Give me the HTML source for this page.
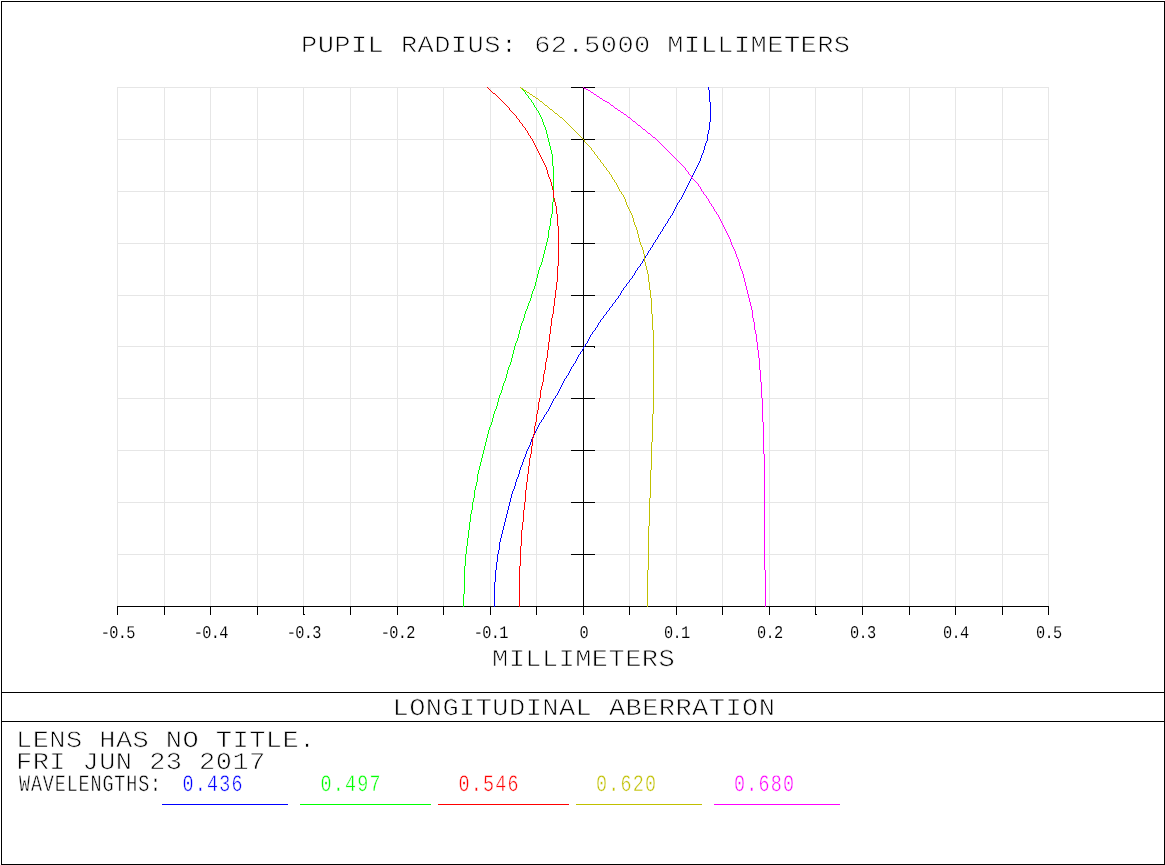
<!DOCTYPE html>
<html lang="en"><head><meta charset="utf-8"><title>Longitudinal Aberration</title>
<style>
html,body{margin:0;padding:0;background:#fff;}
body{width:1165px;height:865px;overflow:hidden;}
svg{display:block;}
text{text-rendering:geometricPrecision;}
svg{will-change:transform;}
text{font-family:"Liberation Mono", monospace;fill:#000;stroke:#fff;stroke-width:0.9px;white-space:pre;}
.g{stroke:#e6e6e6;stroke-width:1;shape-rendering:crispEdges;fill:none;}
.k{stroke:#000;stroke-width:1;shape-rendering:crispEdges;fill:none;}
.c{stroke-width:1;shape-rendering:crispEdges;fill:none;stroke-linejoin:round;}
</style></head><body>
<svg width="1165" height="865" viewBox="0 0 1165 865">
<rect x="0" y="0" width="1165" height="865" fill="#fff"/>
<path class="g" d="M117.5 87V607M164.5 87V607M210.5 87V607M257.5 87V607M303.5 87V607M350.5 87V607M397.5 87V607M443.5 87V607M490.5 87V607M536.5 87V607M583.5 87V607M629.5 87V607M676.5 87V607M722.5 87V607M769.5 87V607M815.5 87V607M862.5 87V607M909.5 87V607M955.5 87V607M1002.5 87V607M1048.5 87V607M117 87.5H1049M117 139.5H1049M117 191.5H1049M117 243.5H1049M117 295.5H1049M117 346.5H1049M117 398.5H1049M117 450.5H1049M117 502.5H1049M117 554.5H1049M117 606.5H1049"/>
<path class="k" d="M117 606.5H1049M117.5 606V615M164.5 606V615M210.5 606V615M257.5 606V615M303.5 606V615M350.5 606V615M397.5 606V615M443.5 606V615M490.5 606V615M536.5 606V615M583.5 606V615M629.5 606V615M676.5 606V615M722.5 606V615M769.5 606V615M815.5 606V615M862.5 606V615M909.5 606V615M955.5 606V615M1002.5 606V615M1048.5 606V615M583.5 87V607M571 87.5H595M571 139.5H595M571 191.5H595M571 243.5H595M571 295.5H595M571 346.5H595M571 398.5H595M571 450.5H595M571 502.5H595M571 554.5H595M304 614.5h1M816 614.5h1M594.5 347v1"/>
<path class="c" stroke="#0000ff" d="M708 87.5h1M708 88.5h1M708 89.5h1M709 90.5h1M709 91.5h1M709 92.5h1M709 93.5h1M709 94.5h1M709 95.5h1M709 96.5h1M709 97.5h1M709 98.5h1M709 99.5h1M709 100.5h1M709 101.5h1M710 102.5h1M710 103.5h1M710 104.5h1M710 105.5h1M710 106.5h1M710 107.5h1M710 108.5h1M710 109.5h1M710 110.5h1M710 111.5h1M710 112.5h1M710 113.5h1M710 114.5h1M710 115.5h1M710 116.5h1M710 117.5h1M710 118.5h1M710 119.5h1M710 120.5h1M710 121.5h1M709 122.5h1M709 123.5h1M709 124.5h1M709 125.5h1M709 126.5h1M709 127.5h1M709 128.5h1M709 129.5h1M708 130.5h1M708 131.5h1M708 132.5h1M708 133.5h1M707 134.5h1M707 135.5h1M707 136.5h1M707 137.5h1M707 138.5h1M707 139.5h1M707 140.5h1M706 141.5h1M706 142.5h1M705 143.5h1M705 144.5h1M705 145.5h1M704 146.5h1M704 147.5h1M704 148.5h1M704 149.5h1M703 150.5h1M703 151.5h1M703 152.5h1M702 153.5h1M702 154.5h1M701 155.5h1M701 156.5h1M701 157.5h1M700 158.5h1M700 159.5h1M700 160.5h1M699 161.5h1M699 162.5h1M698 163.5h1M698 164.5h1M697 165.5h1M697 166.5h1M696 167.5h1M696 168.5h1M695 169.5h1M695 170.5h1M694 171.5h1M694 172.5h1M693 173.5h1M693 174.5h1M692 175.5h1M692 176.5h1M691 177.5h1M691 178.5h1M690 179.5h1M690 180.5h1M689 181.5h1M689 182.5h1M688 183.5h1M688 184.5h1M687 185.5h1M687 186.5h1M686 187.5h1M686 188.5h1M685 189.5h1M685 190.5h1M684 191.5h1M684 192.5h1M683 193.5h1M683 194.5h1M682 195.5h1M682 196.5h1M681 197.5h1M681 198.5h1M680 199.5h1M679 200.5h1M679 201.5h1M678 202.5h1M677 203.5h1M677 204.5h1M676 205.5h1M676 206.5h1M675 207.5h1M675 208.5h1M674 209.5h1M674 210.5h1M673 211.5h1M673 212.5h1M672 213.5h1M672 214.5h1M671 215.5h1M670 216.5h1M670 217.5h1M669 218.5h1M668 219.5h1M668 220.5h1M667 221.5h1M667 222.5h1M666 223.5h1M665 224.5h1M665 225.5h1M664 226.5h1M663 227.5h1M663 228.5h1M662 229.5h1M662 230.5h1M661 231.5h1M660 232.5h1M660 233.5h1M659 234.5h1M658 235.5h1M658 236.5h1M657 237.5h1M657 238.5h1M656 239.5h1M655 240.5h1M655 241.5h1M654 242.5h1M653 243.5h1M653 244.5h1M652 245.5h1M652 246.5h1M651 247.5h1M650 248.5h1M650 249.5h1M649 250.5h1M648 251.5h1M648 252.5h1M647 253.5h1M647 254.5h1M646 255.5h1M645 256.5h1M645 257.5h1M644 258.5h1M643 259.5h1M643 260.5h1M642 261.5h1M642 262.5h1M641 263.5h1M640 264.5h1M640 265.5h1M639 266.5h1M638 267.5h1M637 268.5h1M637 269.5h1M636 270.5h1M635 271.5h1M635 272.5h1M634 273.5h1M634 274.5h1M633 275.5h1M632 276.5h1M632 277.5h1M631 278.5h1M630 279.5h1M629 280.5h1M629 281.5h1M628 282.5h1M627 283.5h1M626 284.5h1M626 285.5h1M625 286.5h1M624 287.5h1M623 288.5h1M623 289.5h1M622 290.5h1M621 291.5h1M621 292.5h1M620 293.5h1M620 294.5h1M619 295.5h1M618 296.5h1M618 297.5h1M617 298.5h1M616 299.5h1M615 300.5h1M615 301.5h1M614 302.5h1M613 303.5h1M612 304.5h1M612 305.5h1M611 306.5h1M610 307.5h1M609 308.5h1M609 309.5h1M608 310.5h1M607 311.5h1M606 312.5h1M606 313.5h1M605 314.5h1M604 315.5h1M603 316.5h1M603 317.5h1M602 318.5h1M601 319.5h1M600 320.5h1M600 321.5h1M599 322.5h1M598 323.5h1M598 324.5h1M597 325.5h1M597 326.5h1M596 327.5h1M595 328.5h1M595 329.5h1M594 330.5h1M593 331.5h1M592 332.5h1M592 333.5h1M591 334.5h1M590 335.5h1M590 336.5h1M589 337.5h1M589 338.5h1M588 339.5h1M588 340.5h1M587 341.5h1M587 342.5h1M586 343.5h1M585 344.5h1M585 345.5h1M584 346.5h1M583 347.5h1M583 348.5h1M582 349.5h1M582 350.5h1M581 351.5h1M580 352.5h1M580 353.5h1M579 354.5h1M578 355.5h1M578 356.5h1M577 357.5h1M577 358.5h1M576 359.5h1M576 360.5h1M575 361.5h1M575 362.5h1M574 363.5h1M573 364.5h1M573 365.5h1M572 366.5h1M571 367.5h1M571 368.5h1M570 369.5h1M570 370.5h1M569 371.5h1M569 372.5h1M568 373.5h1M568 374.5h1M567 375.5h1M566 376.5h1M566 377.5h1M565 378.5h1M564 379.5h1M564 380.5h1M563 381.5h1M563 382.5h1M562 383.5h1M562 384.5h1M561 385.5h1M561 386.5h1M560 387.5h1M560 388.5h1M559 389.5h1M559 390.5h1M558 391.5h1M558 392.5h1M557 393.5h1M557 394.5h1M556 395.5h1M555 396.5h1M555 397.5h1M554 398.5h1M553 399.5h1M553 400.5h1M552 401.5h1M552 402.5h1M551 403.5h1M551 404.5h1M550 405.5h1M550 406.5h1M549 407.5h1M549 408.5h1M548 409.5h1M548 410.5h1M547 411.5h1M546 412.5h1M546 413.5h1M545 414.5h1M544 415.5h1M544 416.5h1M543 417.5h1M543 418.5h1M542 419.5h1M541 420.5h1M541 421.5h1M540 422.5h1M539 423.5h1M539 424.5h1M538 425.5h1M538 426.5h1M537 427.5h1M537 428.5h1M536 429.5h1M536 430.5h1M535 431.5h1M535 432.5h1M534 433.5h1M534 434.5h1M533 435.5h1M533 436.5h1M532 437.5h1M532 438.5h1M531 439.5h1M531 440.5h1M531 441.5h1M530 442.5h1M530 443.5h1M530 444.5h1M529 445.5h1M529 446.5h1M528 447.5h1M528 448.5h1M527 449.5h1M527 450.5h1M526 451.5h1M526 452.5h1M526 453.5h1M525 454.5h1M525 455.5h1M525 456.5h1M524 457.5h1M524 458.5h1M523 459.5h1M523 460.5h1M523 461.5h1M522 462.5h1M522 463.5h1M522 464.5h1M521 465.5h1M521 466.5h1M520 467.5h1M520 468.5h1M520 469.5h1M519 470.5h1M519 471.5h1M519 472.5h1M519 473.5h1M518 474.5h1M518 475.5h1M518 476.5h1M517 477.5h1M517 478.5h1M516 479.5h1M516 480.5h1M516 481.5h1M515 482.5h1M515 483.5h1M515 484.5h1M515 485.5h1M514 486.5h1M514 487.5h1M514 488.5h1M513 489.5h1M513 490.5h1M512 491.5h1M512 492.5h1M512 493.5h1M511 494.5h1M511 495.5h1M511 496.5h1M511 497.5h1M510 498.5h1M510 499.5h1M510 500.5h1M510 501.5h1M509 502.5h1M509 503.5h1M509 504.5h1M509 505.5h1M508 506.5h1M508 507.5h1M508 508.5h1M508 509.5h1M507 510.5h1M507 511.5h1M507 512.5h1M507 513.5h1M506 514.5h1M506 515.5h1M506 516.5h1M506 517.5h1M505 518.5h1M505 519.5h1M505 520.5h1M505 521.5h1M504 522.5h1M504 523.5h1M504 524.5h1M504 525.5h1M503 526.5h1M503 527.5h1M503 528.5h1M503 529.5h1M502 530.5h1M502 531.5h1M502 532.5h1M502 533.5h1M501 534.5h1M501 535.5h1M501 536.5h1M501 537.5h1M500 538.5h1M500 539.5h1M500 540.5h1M500 541.5h1M499 542.5h1M499 543.5h1M499 544.5h1M499 545.5h1M499 546.5h1M499 547.5h1M499 548.5h1M499 549.5h1M498 550.5h1M498 551.5h1M498 552.5h1M498 553.5h1M497 554.5h1M497 555.5h1M497 556.5h1M497 557.5h1M497 558.5h1M497 559.5h1M497 560.5h1M497 561.5h1M496 562.5h1M496 563.5h1M496 564.5h1M496 565.5h1M496 566.5h1M496 567.5h1M496 568.5h1M496 569.5h1M495 570.5h1M495 571.5h1M495 572.5h1M495 573.5h1M495 574.5h1M495 575.5h1M495 576.5h1M495 577.5h1M495 578.5h1M495 579.5h1M495 580.5h1M495 581.5h1M494 582.5h1M494 583.5h1M494 584.5h1M494 585.5h1M494 586.5h1M494 587.5h1M494 588.5h1M494 589.5h1M494 590.5h1M494 591.5h1M494 592.5h1M494 593.5h1M494 594.5h1M494 595.5h1M494 596.5h1M494 597.5h1M494 598.5h1M494 599.5h1M494 600.5h1M494 601.5h1M494 602.5h1M494 603.5h1M494 604.5h1M494 605.5h1M494 606.5h1"/>
<path class="c" stroke="#00ff00" d="M520 87.5h1M521 88.5h1M522 89.5h1M523 90.5h1M524 91.5h1M525 92.5h1M525 93.5h1M526 94.5h1M527 95.5h1M528 96.5h1M528 97.5h1M529 98.5h1M530 99.5h1M531 100.5h1M531 101.5h1M532 102.5h1M533 103.5h1M533 104.5h1M534 105.5h1M534 106.5h1M535 107.5h1M536 108.5h1M536 109.5h1M537 110.5h1M538 111.5h1M538 112.5h1M539 113.5h1M539 114.5h1M540 115.5h1M540 116.5h1M541 117.5h1M541 118.5h1M542 119.5h1M542 120.5h1M542 121.5h1M543 122.5h1M543 123.5h1M543 124.5h1M544 125.5h1M544 126.5h1M545 127.5h1M545 128.5h1M545 129.5h1M546 130.5h1M546 131.5h1M546 132.5h1M546 133.5h1M547 134.5h1M547 135.5h1M547 136.5h1M547 137.5h1M548 138.5h1M548 139.5h1M548 140.5h1M548 141.5h1M549 142.5h1M549 143.5h1M549 144.5h1M549 145.5h1M550 146.5h1M550 147.5h1M550 148.5h1M550 149.5h1M551 150.5h1M551 151.5h1M551 152.5h1M551 153.5h1M552 154.5h1M552 155.5h1M552 156.5h1M552 157.5h1M552 158.5h1M552 159.5h1M552 160.5h1M552 161.5h1M552 162.5h1M552 163.5h1M552 164.5h1M552 165.5h1M553 166.5h1M553 167.5h1M553 168.5h1M553 169.5h1M553 170.5h1M553 171.5h1M553 172.5h1M553 173.5h1M553 174.5h1M553 175.5h1M553 176.5h1M553 177.5h1M553 178.5h1M553 179.5h1M553 180.5h1M553 181.5h1M553 182.5h1M553 183.5h1M553 184.5h1M553 185.5h1M553 186.5h1M553 187.5h1M553 188.5h1M553 189.5h1M553 190.5h1M553 191.5h1M553 192.5h1M553 193.5h1M553 194.5h1M553 195.5h1M553 196.5h1M553 197.5h1M553 198.5h1M553 199.5h1M553 200.5h1M553 201.5h1M552 202.5h1M552 203.5h1M552 204.5h1M552 205.5h1M552 206.5h1M552 207.5h1M552 208.5h1M552 209.5h1M552 210.5h1M552 211.5h1M552 212.5h1M552 213.5h1M551 214.5h1M551 215.5h1M551 216.5h1M551 217.5h1M550 218.5h1M550 219.5h1M550 220.5h1M550 221.5h1M550 222.5h1M550 223.5h1M550 224.5h1M550 225.5h1M549 226.5h1M549 227.5h1M549 228.5h1M549 229.5h1M548 230.5h1M548 231.5h1M548 232.5h1M548 233.5h1M548 234.5h1M548 235.5h1M548 236.5h1M548 237.5h1M547 238.5h1M547 239.5h1M547 240.5h1M547 241.5h1M546 242.5h1M546 243.5h1M546 244.5h1M546 245.5h1M545 246.5h1M545 247.5h1M545 248.5h1M545 249.5h1M544 250.5h1M544 251.5h1M544 252.5h1M544 253.5h1M543 254.5h1M543 255.5h1M543 256.5h1M543 257.5h1M542 258.5h1M542 259.5h1M542 260.5h1M542 261.5h1M541 262.5h1M541 263.5h1M541 264.5h1M540 265.5h1M540 266.5h1M539 267.5h1M539 268.5h1M539 269.5h1M538 270.5h1M538 271.5h1M538 272.5h1M538 273.5h1M537 274.5h1M537 275.5h1M537 276.5h1M537 277.5h1M536 278.5h1M536 279.5h1M536 280.5h1M536 281.5h1M535 282.5h1M535 283.5h1M535 284.5h1M535 285.5h1M534 286.5h1M534 287.5h1M534 288.5h1M533 289.5h1M533 290.5h1M532 291.5h1M532 292.5h1M532 293.5h1M531 294.5h1M531 295.5h1M531 296.5h1M531 297.5h1M530 298.5h1M530 299.5h1M530 300.5h1M529 301.5h1M529 302.5h1M528 303.5h1M528 304.5h1M528 305.5h1M527 306.5h1M527 307.5h1M527 308.5h1M526 309.5h1M526 310.5h1M525 311.5h1M525 312.5h1M525 313.5h1M524 314.5h1M524 315.5h1M524 316.5h1M524 317.5h1M523 318.5h1M523 319.5h1M523 320.5h1M522 321.5h1M522 322.5h1M521 323.5h1M521 324.5h1M521 325.5h1M520 326.5h1M520 327.5h1M520 328.5h1M520 329.5h1M519 330.5h1M519 331.5h1M519 332.5h1M519 333.5h1M518 334.5h1M518 335.5h1M518 336.5h1M518 337.5h1M517 338.5h1M517 339.5h1M517 340.5h1M516 341.5h1M516 342.5h1M515 343.5h1M515 344.5h1M515 345.5h1M514 346.5h1M514 347.5h1M514 348.5h1M514 349.5h1M513 350.5h1M513 351.5h1M513 352.5h1M513 353.5h1M512 354.5h1M512 355.5h1M512 356.5h1M512 357.5h1M511 358.5h1M511 359.5h1M511 360.5h1M511 361.5h1M510 362.5h1M510 363.5h1M510 364.5h1M509 365.5h1M509 366.5h1M508 367.5h1M508 368.5h1M508 369.5h1M507 370.5h1M507 371.5h1M507 372.5h1M507 373.5h1M506 374.5h1M506 375.5h1M506 376.5h1M506 377.5h1M505 378.5h1M505 379.5h1M505 380.5h1M504 381.5h1M504 382.5h1M503 383.5h1M503 384.5h1M503 385.5h1M502 386.5h1M502 387.5h1M502 388.5h1M502 389.5h1M501 390.5h1M501 391.5h1M501 392.5h1M500 393.5h1M500 394.5h1M499 395.5h1M499 396.5h1M499 397.5h1M498 398.5h1M498 399.5h1M498 400.5h1M498 401.5h1M497 402.5h1M497 403.5h1M497 404.5h1M497 405.5h1M496 406.5h1M496 407.5h1M496 408.5h1M495 409.5h1M495 410.5h1M494 411.5h1M494 412.5h1M494 413.5h1M493 414.5h1M493 415.5h1M493 416.5h1M493 417.5h1M492 418.5h1M492 419.5h1M492 420.5h1M492 421.5h1M491 422.5h1M491 423.5h1M491 424.5h1M490 425.5h1M490 426.5h1M489 427.5h1M489 428.5h1M489 429.5h1M488 430.5h1M488 431.5h1M488 432.5h1M488 433.5h1M487 434.5h1M487 435.5h1M487 436.5h1M487 437.5h1M486 438.5h1M486 439.5h1M486 440.5h1M486 441.5h1M485 442.5h1M485 443.5h1M485 444.5h1M485 445.5h1M484 446.5h1M484 447.5h1M484 448.5h1M484 449.5h1M483 450.5h1M483 451.5h1M483 452.5h1M483 453.5h1M482 454.5h1M482 455.5h1M482 456.5h1M482 457.5h1M481 458.5h1M481 459.5h1M481 460.5h1M481 461.5h1M480 462.5h1M480 463.5h1M480 464.5h1M480 465.5h1M479 466.5h1M479 467.5h1M479 468.5h1M479 469.5h1M478 470.5h1M478 471.5h1M478 472.5h1M478 473.5h1M477 474.5h1M477 475.5h1M477 476.5h1M477 477.5h1M477 478.5h1M477 479.5h1M477 480.5h1M477 481.5h1M476 482.5h1M476 483.5h1M476 484.5h1M476 485.5h1M475 486.5h1M475 487.5h1M475 488.5h1M475 489.5h1M474 490.5h1M474 491.5h1M474 492.5h1M474 493.5h1M474 494.5h1M474 495.5h1M474 496.5h1M474 497.5h1M473 498.5h1M473 499.5h1M473 500.5h1M473 501.5h1M472 502.5h1M472 503.5h1M472 504.5h1M472 505.5h1M472 506.5h1M472 507.5h1M472 508.5h1M472 509.5h1M471 510.5h1M471 511.5h1M471 512.5h1M471 513.5h1M470 514.5h1M470 515.5h1M470 516.5h1M470 517.5h1M470 518.5h1M470 519.5h1M470 520.5h1M470 521.5h1M469 522.5h1M469 523.5h1M469 524.5h1M469 525.5h1M469 526.5h1M469 527.5h1M469 528.5h1M469 529.5h1M468 530.5h1M468 531.5h1M468 532.5h1M468 533.5h1M468 534.5h1M468 535.5h1M468 536.5h1M468 537.5h1M467 538.5h1M467 539.5h1M467 540.5h1M467 541.5h1M467 542.5h1M467 543.5h1M467 544.5h1M467 545.5h1M466 546.5h1M466 547.5h1M466 548.5h1M466 549.5h1M466 550.5h1M466 551.5h1M466 552.5h1M466 553.5h1M465 554.5h1M465 555.5h1M465 556.5h1M465 557.5h1M465 558.5h1M465 559.5h1M465 560.5h1M465 561.5h1M465 562.5h1M465 563.5h1M465 564.5h1M465 565.5h1M464 566.5h1M464 567.5h1M464 568.5h1M464 569.5h1M464 570.5h1M464 571.5h1M464 572.5h1M464 573.5h1M464 574.5h1M464 575.5h1M464 576.5h1M464 577.5h1M464 578.5h1M464 579.5h1M464 580.5h1M464 581.5h1M464 582.5h1M464 583.5h1M464 584.5h1M464 585.5h1M464 586.5h1M464 587.5h1M464 588.5h1M464 589.5h1M464 590.5h1M464 591.5h1M464 592.5h1M464 593.5h1M463 594.5h1M463 595.5h1M463 596.5h1M463 597.5h1M463 598.5h1M463 599.5h1M463 600.5h1M463 601.5h1M463 602.5h1M463 603.5h1M463 604.5h1M463 605.5h1M463 606.5h1"/>
<path class="c" stroke="#ff0000" d="M487 87.5h1M488 88.5h1M489 89.5h1M490 90.5h1M491 91.5h1M492 92.5h1M493 93.5h2M495 94.5h1M496 95.5h1M497 96.5h1M498 97.5h1M499 98.5h1M500 99.5h1M501 100.5h1M502 101.5h1M503 102.5h1M504 103.5h1M505 104.5h1M506 105.5h1M507 106.5h1M508 107.5h1M509 108.5h1M509 109.5h1M510 110.5h1M511 111.5h1M512 112.5h1M513 113.5h1M514 114.5h1M515 115.5h1M516 116.5h1M516 117.5h1M517 118.5h1M518 119.5h1M519 120.5h1M519 121.5h1M520 122.5h1M521 123.5h1M522 124.5h1M522 125.5h1M523 126.5h1M524 127.5h1M525 128.5h1M525 129.5h1M526 130.5h1M527 131.5h1M527 132.5h1M528 133.5h1M528 134.5h1M529 135.5h1M530 136.5h1M530 137.5h1M531 138.5h1M532 139.5h1M532 140.5h1M533 141.5h1M533 142.5h1M534 143.5h1M534 144.5h1M535 145.5h1M535 146.5h1M536 147.5h1M536 148.5h1M537 149.5h1M537 150.5h1M538 151.5h1M538 152.5h1M539 153.5h1M539 154.5h1M540 155.5h1M540 156.5h1M541 157.5h1M541 158.5h1M542 159.5h1M542 160.5h1M543 161.5h1M543 162.5h1M544 163.5h1M544 164.5h1M545 165.5h1M545 166.5h1M546 167.5h1M546 168.5h1M546 169.5h1M547 170.5h1M547 171.5h1M547 172.5h1M547 173.5h1M548 174.5h1M548 175.5h1M548 176.5h1M549 177.5h1M549 178.5h1M550 179.5h1M550 180.5h1M550 181.5h1M551 182.5h1M551 183.5h1M551 184.5h1M551 185.5h1M552 186.5h1M552 187.5h1M552 188.5h1M552 189.5h1M553 190.5h1M553 191.5h1M553 192.5h1M553 193.5h1M553 194.5h1M553 195.5h1M553 196.5h1M553 197.5h1M554 198.5h1M554 199.5h1M554 200.5h1M554 201.5h1M555 202.5h1M555 203.5h1M555 204.5h1M555 205.5h1M556 206.5h1M556 207.5h1M556 208.5h1M556 209.5h1M556 210.5h1M556 211.5h1M556 212.5h1M556 213.5h1M557 214.5h1M557 215.5h1M557 216.5h1M557 217.5h1M557 218.5h1M557 219.5h1M557 220.5h1M557 221.5h1M557 222.5h1M557 223.5h1M557 224.5h1M557 225.5h1M558 226.5h1M558 227.5h1M558 228.5h1M558 229.5h1M558 230.5h1M558 231.5h1M558 232.5h1M558 233.5h1M558 234.5h1M558 235.5h1M558 236.5h1M558 237.5h1M558 238.5h1M558 239.5h1M558 240.5h1M558 241.5h1M558 242.5h1M558 243.5h1M558 244.5h1M558 245.5h1M558 246.5h1M558 247.5h1M558 248.5h1M558 249.5h1M558 250.5h1M558 251.5h1M558 252.5h1M558 253.5h1M558 254.5h1M558 255.5h1M558 256.5h1M558 257.5h1M558 258.5h1M558 259.5h1M558 260.5h1M558 261.5h1M558 262.5h1M558 263.5h1M558 264.5h1M558 265.5h1M557 266.5h1M557 267.5h1M557 268.5h1M557 269.5h1M557 270.5h1M557 271.5h1M557 272.5h1M557 273.5h1M557 274.5h1M557 275.5h1M557 276.5h1M557 277.5h1M557 278.5h1M557 279.5h1M557 280.5h1M557 281.5h1M556 282.5h1M556 283.5h1M556 284.5h1M556 285.5h1M556 286.5h1M556 287.5h1M556 288.5h1M556 289.5h1M555 290.5h1M555 291.5h1M555 292.5h1M555 293.5h1M555 294.5h1M555 295.5h1M555 296.5h1M555 297.5h1M554 298.5h1M554 299.5h1M554 300.5h1M554 301.5h1M554 302.5h1M554 303.5h1M554 304.5h1M554 305.5h1M553 306.5h1M553 307.5h1M553 308.5h1M553 309.5h1M553 310.5h1M553 311.5h1M553 312.5h1M553 313.5h1M552 314.5h1M552 315.5h1M552 316.5h1M552 317.5h1M551 318.5h1M551 319.5h1M551 320.5h1M551 321.5h1M551 322.5h1M551 323.5h1M551 324.5h1M551 325.5h1M550 326.5h1M550 327.5h1M550 328.5h1M550 329.5h1M550 330.5h1M550 331.5h1M550 332.5h1M550 333.5h1M549 334.5h1M549 335.5h1M549 336.5h1M549 337.5h1M549 338.5h1M549 339.5h1M549 340.5h1M549 341.5h1M548 342.5h1M548 343.5h1M548 344.5h1M548 345.5h1M548 346.5h1M548 347.5h1M548 348.5h1M548 349.5h1M547 350.5h1M547 351.5h1M547 352.5h1M547 353.5h1M547 354.5h1M547 355.5h1M547 356.5h1M547 357.5h1M546 358.5h1M546 359.5h1M546 360.5h1M546 361.5h1M545 362.5h1M545 363.5h1M545 364.5h1M545 365.5h1M545 366.5h1M545 367.5h1M545 368.5h1M545 369.5h1M544 370.5h1M544 371.5h1M544 372.5h1M544 373.5h1M543 374.5h1M543 375.5h1M543 376.5h1M543 377.5h1M543 378.5h1M543 379.5h1M543 380.5h1M543 381.5h1M542 382.5h1M542 383.5h1M542 384.5h1M542 385.5h1M541 386.5h1M541 387.5h1M541 388.5h1M541 389.5h1M540 390.5h1M540 391.5h1M540 392.5h1M540 393.5h1M540 394.5h1M540 395.5h1M540 396.5h1M540 397.5h1M539 398.5h1M539 399.5h1M539 400.5h1M539 401.5h1M538 402.5h1M538 403.5h1M538 404.5h1M538 405.5h1M538 406.5h1M538 407.5h1M538 408.5h1M538 409.5h1M537 410.5h1M537 411.5h1M537 412.5h1M537 413.5h1M536 414.5h1M536 415.5h1M536 416.5h1M536 417.5h1M536 418.5h1M536 419.5h1M536 420.5h1M536 421.5h1M535 422.5h1M535 423.5h1M535 424.5h1M535 425.5h1M534 426.5h1M534 427.5h1M534 428.5h1M534 429.5h1M534 430.5h1M534 431.5h1M534 432.5h1M534 433.5h1M533 434.5h1M533 435.5h1M533 436.5h1M533 437.5h1M532 438.5h1M532 439.5h1M532 440.5h1M532 441.5h1M532 442.5h1M532 443.5h1M532 444.5h1M532 445.5h1M531 446.5h1M531 447.5h1M531 448.5h1M531 449.5h1M531 450.5h1M531 451.5h1M531 452.5h1M531 453.5h1M530 454.5h1M530 455.5h1M530 456.5h1M530 457.5h1M529 458.5h1M529 459.5h1M529 460.5h1M529 461.5h1M529 462.5h1M529 463.5h1M529 464.5h1M529 465.5h1M528 466.5h1M528 467.5h1M528 468.5h1M528 469.5h1M528 470.5h1M528 471.5h1M528 472.5h1M528 473.5h1M527 474.5h1M527 475.5h1M527 476.5h1M527 477.5h1M527 478.5h1M527 479.5h1M527 480.5h1M527 481.5h1M526 482.5h1M526 483.5h1M526 484.5h1M526 485.5h1M526 486.5h1M526 487.5h1M526 488.5h1M526 489.5h1M525 490.5h1M525 491.5h1M525 492.5h1M525 493.5h1M525 494.5h1M525 495.5h1M525 496.5h1M525 497.5h1M525 498.5h1M525 499.5h1M525 500.5h1M525 501.5h1M524 502.5h1M524 503.5h1M524 504.5h1M524 505.5h1M524 506.5h1M524 507.5h1M524 508.5h1M524 509.5h1M523 510.5h1M523 511.5h1M523 512.5h1M523 513.5h1M523 514.5h1M523 515.5h1M523 516.5h1M523 517.5h1M523 518.5h1M523 519.5h1M523 520.5h1M523 521.5h1M522 522.5h1M522 523.5h1M522 524.5h1M522 525.5h1M522 526.5h1M522 527.5h1M522 528.5h1M522 529.5h1M521 530.5h1M521 531.5h1M521 532.5h1M521 533.5h1M521 534.5h1M521 535.5h1M521 536.5h1M521 537.5h1M521 538.5h1M521 539.5h1M521 540.5h1M521 541.5h1M521 542.5h1M521 543.5h1M521 544.5h1M521 545.5h1M520 546.5h1M520 547.5h1M520 548.5h1M520 549.5h1M520 550.5h1M520 551.5h1M520 552.5h1M520 553.5h1M520 554.5h1M520 555.5h1M520 556.5h1M520 557.5h1M520 558.5h1M520 559.5h1M520 560.5h1M520 561.5h1M520 562.5h1M520 563.5h1M520 564.5h1M520 565.5h1M519 566.5h1M519 567.5h1M519 568.5h1M519 569.5h1M519 570.5h1M519 571.5h1M519 572.5h1M519 573.5h1M519 574.5h1M519 575.5h1M519 576.5h1M519 577.5h1M519 578.5h1M519 579.5h1M519 580.5h1M519 581.5h1M519 582.5h1M519 583.5h1M519 584.5h1M519 585.5h1M519 586.5h1M519 587.5h1M519 588.5h1M519 589.5h1M519 590.5h1M519 591.5h1M519 592.5h1M519 593.5h1M519 594.5h1M519 595.5h1M519 596.5h1M519 597.5h1M519 598.5h1M519 599.5h1M519 600.5h1M519 601.5h1M519 602.5h1M519 603.5h1M519 604.5h1M519 605.5h1M519 606.5h1"/>
<path class="c" stroke="#c0c000" d="M520 87.5h1M521 88.5h2M523 89.5h1M524 90.5h2M526 91.5h1M527 92.5h2M529 93.5h1M530 94.5h2M532 95.5h1M533 96.5h2M535 97.5h1M536 98.5h2M538 99.5h1M539 100.5h1M540 101.5h2M542 102.5h1M543 103.5h1M544 104.5h1M545 105.5h2M547 106.5h1M548 107.5h1M549 108.5h1M550 109.5h2M552 110.5h1M553 111.5h1M554 112.5h1M555 113.5h2M557 114.5h1M558 115.5h1M559 116.5h1M560 117.5h2M562 118.5h1M563 119.5h1M564 120.5h1M565 121.5h1M566 122.5h1M567 123.5h1M568 124.5h1M569 125.5h1M570 126.5h1M571 127.5h1M572 128.5h1M573 129.5h1M574 130.5h1M575 131.5h1M576 132.5h1M577 133.5h1M578 134.5h1M579 135.5h1M580 136.5h1M581 137.5h1M582 138.5h1M583 139.5h1M584 140.5h1M584 141.5h1M585 142.5h1M586 143.5h1M587 144.5h1M588 145.5h1M589 146.5h1M590 147.5h1M591 148.5h1M591 149.5h1M592 150.5h1M593 151.5h1M594 152.5h1M594 153.5h1M595 154.5h1M596 155.5h1M597 156.5h1M597 157.5h1M598 158.5h1M599 159.5h1M600 160.5h1M600 161.5h1M601 162.5h1M602 163.5h1M603 164.5h1M603 165.5h1M604 166.5h1M605 167.5h1M606 168.5h1M606 169.5h1M607 170.5h1M608 171.5h1M609 172.5h1M609 173.5h1M610 174.5h1M611 175.5h1M611 176.5h1M612 177.5h1M612 178.5h1M613 179.5h1M614 180.5h1M614 181.5h1M615 182.5h1M616 183.5h1M616 184.5h1M617 185.5h1M617 186.5h1M618 187.5h1M618 188.5h1M619 189.5h1M619 190.5h1M620 191.5h1M621 192.5h1M621 193.5h1M622 194.5h1M623 195.5h1M623 196.5h1M624 197.5h1M624 198.5h1M625 199.5h1M625 200.5h1M625 201.5h1M626 202.5h1M626 203.5h1M626 204.5h1M627 205.5h1M627 206.5h1M628 207.5h1M628 208.5h1M629 209.5h1M629 210.5h1M630 211.5h1M630 212.5h1M631 213.5h1M631 214.5h1M632 215.5h1M632 216.5h1M632 217.5h1M633 218.5h1M633 219.5h1M633 220.5h1M633 221.5h1M634 222.5h1M634 223.5h1M634 224.5h1M635 225.5h1M635 226.5h1M636 227.5h1M636 228.5h1M636 229.5h1M637 230.5h1M637 231.5h1M637 232.5h1M637 233.5h1M638 234.5h1M638 235.5h1M638 236.5h1M638 237.5h1M639 238.5h1M639 239.5h1M639 240.5h1M639 241.5h1M640 242.5h1M640 243.5h1M640 244.5h1M641 245.5h1M641 246.5h1M642 247.5h1M642 248.5h1M642 249.5h1M643 250.5h1M643 251.5h1M643 252.5h1M643 253.5h1M644 254.5h1M644 255.5h1M644 256.5h1M644 257.5h1M644 258.5h1M644 259.5h1M644 260.5h1M644 261.5h1M645 262.5h1M645 263.5h1M645 264.5h1M645 265.5h1M646 266.5h1M646 267.5h1M646 268.5h1M646 269.5h1M647 270.5h1M647 271.5h1M647 272.5h1M647 273.5h1M648 274.5h1M648 275.5h1M648 276.5h1M648 277.5h1M648 278.5h1M648 279.5h1M648 280.5h1M648 281.5h1M649 282.5h1M649 283.5h1M649 284.5h1M649 285.5h1M649 286.5h1M649 287.5h1M649 288.5h1M649 289.5h1M650 290.5h1M650 291.5h1M650 292.5h1M650 293.5h1M650 294.5h1M650 295.5h1M650 296.5h1M650 297.5h1M651 298.5h1M651 299.5h1M651 300.5h1M651 301.5h1M651 302.5h1M651 303.5h1M651 304.5h1M651 305.5h1M651 306.5h1M651 307.5h1M651 308.5h1M651 309.5h1M651 310.5h1M651 311.5h1M651 312.5h1M651 313.5h1M652 314.5h1M652 315.5h1M652 316.5h1M652 317.5h1M652 318.5h1M652 319.5h1M652 320.5h1M652 321.5h1M652 322.5h1M652 323.5h1M652 324.5h1M652 325.5h1M652 326.5h1M652 327.5h1M652 328.5h1M652 329.5h1M653 330.5h1M653 331.5h1M653 332.5h1M653 333.5h1M653 334.5h1M653 335.5h1M653 336.5h1M653 337.5h1M653 338.5h1M653 339.5h1M653 340.5h1M653 341.5h1M653 342.5h1M653 343.5h1M653 344.5h1M653 345.5h1M653 346.5h1M653 347.5h1M653 348.5h1M653 349.5h1M653 350.5h1M653 351.5h1M653 352.5h1M653 353.5h1M653 354.5h1M653 355.5h1M653 356.5h1M653 357.5h1M653 358.5h1M653 359.5h1M653 360.5h1M653 361.5h1M653 362.5h1M653 363.5h1M653 364.5h1M653 365.5h1M653 366.5h1M653 367.5h1M653 368.5h1M653 369.5h1M653 370.5h1M653 371.5h1M653 372.5h1M653 373.5h1M653 374.5h1M653 375.5h1M653 376.5h1M653 377.5h1M653 378.5h1M653 379.5h1M653 380.5h1M653 381.5h1M653 382.5h1M653 383.5h1M653 384.5h1M653 385.5h1M653 386.5h1M653 387.5h1M653 388.5h1M653 389.5h1M653 390.5h1M653 391.5h1M653 392.5h1M653 393.5h1M653 394.5h1M653 395.5h1M653 396.5h1M653 397.5h1M653 398.5h1M653 399.5h1M653 400.5h1M653 401.5h1M653 402.5h1M653 403.5h1M653 404.5h1M653 405.5h1M653 406.5h1M653 407.5h1M653 408.5h1M653 409.5h1M653 410.5h1M653 411.5h1M653 412.5h1M653 413.5h1M652 414.5h1M652 415.5h1M652 416.5h1M652 417.5h1M652 418.5h1M652 419.5h1M652 420.5h1M652 421.5h1M652 422.5h1M652 423.5h1M652 424.5h1M652 425.5h1M652 426.5h1M652 427.5h1M652 428.5h1M652 429.5h1M652 430.5h1M652 431.5h1M652 432.5h1M652 433.5h1M652 434.5h1M652 435.5h1M652 436.5h1M652 437.5h1M652 438.5h1M652 439.5h1M652 440.5h1M652 441.5h1M651 442.5h1M651 443.5h1M651 444.5h1M651 445.5h1M651 446.5h1M651 447.5h1M651 448.5h1M651 449.5h1M651 450.5h1M651 451.5h1M651 452.5h1M651 453.5h1M651 454.5h1M651 455.5h1M651 456.5h1M651 457.5h1M651 458.5h1M651 459.5h1M651 460.5h1M651 461.5h1M651 462.5h1M651 463.5h1M651 464.5h1M651 465.5h1M651 466.5h1M651 467.5h1M651 468.5h1M651 469.5h1M650 470.5h1M650 471.5h1M650 472.5h1M650 473.5h1M650 474.5h1M650 475.5h1M650 476.5h1M650 477.5h1M650 478.5h1M650 479.5h1M650 480.5h1M650 481.5h1M650 482.5h1M650 483.5h1M650 484.5h1M650 485.5h1M650 486.5h1M650 487.5h1M650 488.5h1M650 489.5h1M650 490.5h1M650 491.5h1M650 492.5h1M650 493.5h1M650 494.5h1M650 495.5h1M650 496.5h1M650 497.5h1M649 498.5h1M649 499.5h1M649 500.5h1M649 501.5h1M649 502.5h1M649 503.5h1M649 504.5h1M649 505.5h1M649 506.5h1M649 507.5h1M649 508.5h1M649 509.5h1M649 510.5h1M649 511.5h1M649 512.5h1M649 513.5h1M649 514.5h1M649 515.5h1M649 516.5h1M649 517.5h1M649 518.5h1M649 519.5h1M649 520.5h1M649 521.5h1M649 522.5h1M649 523.5h1M649 524.5h1M649 525.5h1M648 526.5h1M648 527.5h1M648 528.5h1M648 529.5h1M648 530.5h1M648 531.5h1M648 532.5h1M648 533.5h1M648 534.5h1M648 535.5h1M648 536.5h1M648 537.5h1M648 538.5h1M648 539.5h1M648 540.5h1M648 541.5h1M648 542.5h1M648 543.5h1M648 544.5h1M648 545.5h1M648 546.5h1M648 547.5h1M648 548.5h1M648 549.5h1M648 550.5h1M648 551.5h1M648 552.5h1M648 553.5h1M648 554.5h1M648 555.5h1M648 556.5h1M648 557.5h1M648 558.5h1M648 559.5h1M648 560.5h1M648 561.5h1M648 562.5h1M648 563.5h1M648 564.5h1M648 565.5h1M648 566.5h1M648 567.5h1M648 568.5h1M648 569.5h1M647 570.5h1M647 571.5h1M647 572.5h1M647 573.5h1M647 574.5h1M647 575.5h1M647 576.5h1M647 577.5h1M647 578.5h1M647 579.5h1M647 580.5h1M647 581.5h1M647 582.5h1M647 583.5h1M647 584.5h1M647 585.5h1M647 586.5h1M647 587.5h1M647 588.5h1M647 589.5h1M647 590.5h1M647 591.5h1M647 592.5h1M647 593.5h1M647 594.5h1M647 595.5h1M647 596.5h1M647 597.5h1M647 598.5h1M647 599.5h1M647 600.5h1M647 601.5h1M647 602.5h1M647 603.5h1M647 604.5h1M647 605.5h1M647 606.5h1"/>
<path class="c" stroke="#ff00ff" d="M583 87.5h1M584 88.5h2M586 89.5h2M588 90.5h2M590 91.5h1M591 92.5h2M593 93.5h1M594 94.5h2M596 95.5h1M597 96.5h2M599 97.5h1M600 98.5h2M602 99.5h1M603 100.5h2M605 101.5h2M607 102.5h2M609 103.5h1M610 104.5h1M611 105.5h2M613 106.5h1M614 107.5h1M615 108.5h2M617 109.5h1M618 110.5h2M620 111.5h1M621 112.5h2M623 113.5h1M624 114.5h2M626 115.5h1M627 116.5h1M628 117.5h2M630 118.5h1M631 119.5h1M632 120.5h1M633 121.5h2M635 122.5h1M636 123.5h1M637 124.5h1M638 125.5h2M640 126.5h1M641 127.5h1M642 128.5h1M643 129.5h2M645 130.5h1M646 131.5h1M647 132.5h1M648 133.5h2M650 134.5h1M651 135.5h1M652 136.5h1M653 137.5h2M655 138.5h1M656 139.5h1M657 140.5h1M658 141.5h1M659 142.5h1M660 143.5h1M661 144.5h1M662 145.5h1M663 146.5h1M664 147.5h1M665 148.5h1M666 149.5h1M667 150.5h1M668 151.5h1M669 152.5h1M670 153.5h1M671 154.5h1M672 155.5h1M673 156.5h1M674 157.5h1M675 158.5h1M676 159.5h1M677 160.5h1M678 161.5h1M679 162.5h1M680 163.5h1M681 164.5h1M682 165.5h1M683 166.5h1M684 167.5h1M685 168.5h1M685 169.5h1M686 170.5h1M687 171.5h1M688 172.5h1M688 173.5h1M689 174.5h1M690 175.5h1M691 176.5h1M691 177.5h1M692 178.5h1M693 179.5h1M694 180.5h1M695 181.5h1M696 182.5h1M697 183.5h1M698 184.5h1M698 185.5h1M699 186.5h1M700 187.5h1M700 188.5h1M701 189.5h1M701 190.5h1M702 191.5h1M703 192.5h1M703 193.5h1M704 194.5h1M705 195.5h1M706 196.5h1M706 197.5h1M707 198.5h1M708 199.5h1M708 200.5h1M709 201.5h1M709 202.5h1M710 203.5h1M711 204.5h1M711 205.5h1M712 206.5h1M713 207.5h1M713 208.5h1M714 209.5h1M714 210.5h1M715 211.5h1M716 212.5h1M716 213.5h1M717 214.5h1M718 215.5h1M718 216.5h1M719 217.5h1M719 218.5h1M720 219.5h1M720 220.5h1M721 221.5h1M721 222.5h1M722 223.5h1M722 224.5h1M723 225.5h1M723 226.5h1M724 227.5h1M724 228.5h1M725 229.5h1M725 230.5h1M726 231.5h1M726 232.5h1M727 233.5h1M727 234.5h1M728 235.5h1M728 236.5h1M729 237.5h1M729 238.5h1M730 239.5h1M730 240.5h1M730 241.5h1M731 242.5h1M731 243.5h1M731 244.5h1M732 245.5h1M732 246.5h1M733 247.5h1M733 248.5h1M734 249.5h1M734 250.5h1M735 251.5h1M735 252.5h1M735 253.5h1M736 254.5h1M736 255.5h1M736 256.5h1M737 257.5h1M737 258.5h1M738 259.5h1M738 260.5h1M738 261.5h1M739 262.5h1M739 263.5h1M739 264.5h1M739 265.5h1M740 266.5h1M740 267.5h1M740 268.5h1M741 269.5h1M741 270.5h1M742 271.5h1M742 272.5h1M742 273.5h1M743 274.5h1M743 275.5h1M743 276.5h1M743 277.5h1M744 278.5h1M744 279.5h1M744 280.5h1M744 281.5h1M745 282.5h1M745 283.5h1M745 284.5h1M745 285.5h1M746 286.5h1M746 287.5h1M746 288.5h1M746 289.5h1M747 290.5h1M747 291.5h1M747 292.5h1M747 293.5h1M748 294.5h1M748 295.5h1M748 296.5h1M748 297.5h1M749 298.5h1M749 299.5h1M749 300.5h1M749 301.5h1M750 302.5h1M750 303.5h1M750 304.5h1M750 305.5h1M751 306.5h1M751 307.5h1M751 308.5h1M751 309.5h1M752 310.5h1M752 311.5h1M752 312.5h1M752 313.5h1M752 314.5h1M752 315.5h1M752 316.5h1M752 317.5h1M753 318.5h1M753 319.5h1M753 320.5h1M753 321.5h1M754 322.5h1M754 323.5h1M754 324.5h1M754 325.5h1M754 326.5h1M754 327.5h1M754 328.5h1M754 329.5h1M755 330.5h1M755 331.5h1M755 332.5h1M755 333.5h1M756 334.5h1M756 335.5h1M756 336.5h1M756 337.5h1M756 338.5h1M756 339.5h1M756 340.5h1M756 341.5h1M757 342.5h1M757 343.5h1M757 344.5h1M757 345.5h1M757 346.5h1M757 347.5h1M757 348.5h1M757 349.5h1M758 350.5h1M758 351.5h1M758 352.5h1M758 353.5h1M758 354.5h1M758 355.5h1M758 356.5h1M758 357.5h1M759 358.5h1M759 359.5h1M759 360.5h1M759 361.5h1M759 362.5h1M759 363.5h1M759 364.5h1M759 365.5h1M759 366.5h1M759 367.5h1M759 368.5h1M759 369.5h1M760 370.5h1M760 371.5h1M760 372.5h1M760 373.5h1M760 374.5h1M760 375.5h1M760 376.5h1M760 377.5h1M760 378.5h1M760 379.5h1M760 380.5h1M760 381.5h1M761 382.5h1M761 383.5h1M761 384.5h1M761 385.5h1M761 386.5h1M761 387.5h1M761 388.5h1M761 389.5h1M761 390.5h1M761 391.5h1M761 392.5h1M761 393.5h1M761 394.5h1M761 395.5h1M761 396.5h1M761 397.5h1M762 398.5h1M762 399.5h1M762 400.5h1M762 401.5h1M762 402.5h1M762 403.5h1M762 404.5h1M762 405.5h1M762 406.5h1M762 407.5h1M762 408.5h1M762 409.5h1M762 410.5h1M762 411.5h1M762 412.5h1M762 413.5h1M762 414.5h1M762 415.5h1M762 416.5h1M762 417.5h1M762 418.5h1M762 419.5h1M762 420.5h1M762 421.5h1M763 422.5h1M763 423.5h1M763 424.5h1M763 425.5h1M763 426.5h1M763 427.5h1M763 428.5h1M763 429.5h1M763 430.5h1M763 431.5h1M763 432.5h1M763 433.5h1M763 434.5h1M763 435.5h1M763 436.5h1M763 437.5h1M763 438.5h1M763 439.5h1M763 440.5h1M763 441.5h1M763 442.5h1M763 443.5h1M763 444.5h1M763 445.5h1M763 446.5h1M763 447.5h1M763 448.5h1M763 449.5h1M763 450.5h1M763 451.5h1M763 452.5h1M763 453.5h1M764 454.5h1M764 455.5h1M764 456.5h1M764 457.5h1M764 458.5h1M764 459.5h1M764 460.5h1M764 461.5h1M764 462.5h1M764 463.5h1M764 464.5h1M764 465.5h1M764 466.5h1M764 467.5h1M764 468.5h1M764 469.5h1M764 470.5h1M764 471.5h1M764 472.5h1M764 473.5h1M764 474.5h1M764 475.5h1M764 476.5h1M764 477.5h1M764 478.5h1M764 479.5h1M764 480.5h1M764 481.5h1M764 482.5h1M764 483.5h1M764 484.5h1M764 485.5h1M764 486.5h1M764 487.5h1M764 488.5h1M764 489.5h1M764 490.5h1M764 491.5h1M764 492.5h1M764 493.5h1M764 494.5h1M764 495.5h1M764 496.5h1M764 497.5h1M764 498.5h1M764 499.5h1M764 500.5h1M764 501.5h1M764 502.5h1M764 503.5h1M764 504.5h1M764 505.5h1M764 506.5h1M764 507.5h1M764 508.5h1M764 509.5h1M764 510.5h1M764 511.5h1M764 512.5h1M764 513.5h1M764 514.5h1M764 515.5h1M764 516.5h1M764 517.5h1M764 518.5h1M764 519.5h1M764 520.5h1M764 521.5h1M764 522.5h1M764 523.5h1M764 524.5h1M764 525.5h1M764 526.5h1M764 527.5h1M764 528.5h1M764 529.5h1M764 530.5h1M764 531.5h1M764 532.5h1M764 533.5h1M764 534.5h1M764 535.5h1M764 536.5h1M764 537.5h1M764 538.5h1M764 539.5h1M764 540.5h1M764 541.5h1M764 542.5h1M764 543.5h1M764 544.5h1M764 545.5h1M764 546.5h1M764 547.5h1M764 548.5h1M764 549.5h1M764 550.5h1M764 551.5h1M764 552.5h1M764 553.5h1M764 554.5h1M764 555.5h1M764 556.5h1M764 557.5h1M764 558.5h1M764 559.5h1M764 560.5h1M764 561.5h1M764 562.5h1M764 563.5h1M764 564.5h1M764 565.5h1M764 566.5h1M764 567.5h1M764 568.5h1M764 569.5h1M765 570.5h1M765 571.5h1M765 572.5h1M765 573.5h1M765 574.5h1M765 575.5h1M765 576.5h1M765 577.5h1M765 578.5h1M765 579.5h1M765 580.5h1M765 581.5h1M765 582.5h1M765 583.5h1M765 584.5h1M765 585.5h1M765 586.5h1M765 587.5h1M765 588.5h1M765 589.5h1M765 590.5h1M765 591.5h1M765 592.5h1M765 593.5h1M765 594.5h1M765 595.5h1M765 596.5h1M765 597.5h1M765 598.5h1M765 599.5h1M765 600.5h1M765 601.5h1M765 602.5h1M765 603.5h1M765 604.5h1M765 605.5h1M765 606.5h1"/>
<path class="k" d="M1.5 1.5H1164.5V864.5H1.5ZM1 692.5H1165M1 721.5H1165"/>
<text transform="translate(301.00 52.00) scale(1.15 1)" style="font-size:23.5px;letter-spacing:0.378px;stroke-width:0.7px;">PUPIL RADIUS: 62.5000 MILLIMETERS</text>
<text transform="translate(492.00 666.00) scale(1.117 1)" style="font-size:24.2px;letter-spacing:0.386px;stroke-width:0.7px;">MILLIMETERS</text>
<text transform="translate(392.50 715.00) scale(1.117 1)" style="font-size:24.2px;letter-spacing:0.386px;stroke-width:0.7px;">LONGITUDINAL ABERRATION</text>
<text transform="translate(16.00 747.00) scale(1.15 1)" style="font-size:23.5px;letter-spacing:0.378px;stroke-width:0.7px;">LENS HAS NO TITLE.</text>
<text transform="translate(16.00 769.00) scale(1.117 1)" style="font-size:24.2px;letter-spacing:0.386px;stroke-width:0.7px;">FRI JUN 23 2017</text>
<text transform="translate(19.00 791.00) scale(0.78 1)" style="font-size:23.6px;letter-spacing:1.122px;stroke-width:0.5px;">WAVELENGTHS:</text>
<text transform="translate(182.50 791.00) scale(0.78 1)" style="font-size:23.6px;letter-spacing:1.545px;fill:#0000ff;stroke-width:0.5px;">0.436</text>
<text transform="translate(320.50 791.00) scale(0.78 1)" style="font-size:23.6px;letter-spacing:1.545px;fill:#00ff00;stroke-width:0.5px;">0.497</text>
<text transform="translate(458.50 791.00) scale(0.78 1)" style="font-size:23.6px;letter-spacing:1.545px;fill:#ff0000;stroke-width:0.5px;">0.546</text>
<text transform="translate(596.00 791.00) scale(0.78 1)" style="font-size:23.6px;letter-spacing:1.545px;fill:#c0c000;stroke-width:0.5px;">0.620</text>
<text transform="translate(734.00 791.00) scale(0.78 1)" style="font-size:23.6px;letter-spacing:1.545px;fill:#ff00ff;stroke-width:0.5px;">0.680</text>
<text transform="translate(100.66 638.00) scale(0.85 1)" style="font-size:18.0px;letter-spacing:-0.800px;stroke-width:0.1px;">-0.5</text>
<text transform="translate(193.66 638.00) scale(0.85 1)" style="font-size:18.0px;letter-spacing:-0.800px;stroke-width:0.1px;">-0.4</text>
<text transform="translate(286.66 638.00) scale(0.85 1)" style="font-size:18.0px;letter-spacing:-0.800px;stroke-width:0.1px;">-0.3</text>
<text transform="translate(380.66 638.00) scale(0.85 1)" style="font-size:18.0px;letter-spacing:-0.800px;stroke-width:0.1px;">-0.2</text>
<text transform="translate(473.66 638.00) scale(0.85 1)" style="font-size:18.0px;letter-spacing:-0.800px;stroke-width:0.1px;">-0.1</text>
<text transform="translate(579.41 638.00) scale(0.85 1)" style="font-size:18.0px;letter-spacing:-0.800px;stroke-width:0.1px;">0</text>
<text transform="translate(663.91 638.00) scale(0.85 1)" style="font-size:18.0px;letter-spacing:-0.800px;stroke-width:0.1px;">0.1</text>
<text transform="translate(756.91 638.00) scale(0.85 1)" style="font-size:18.0px;letter-spacing:-0.800px;stroke-width:0.1px;">0.2</text>
<text transform="translate(849.91 638.00) scale(0.85 1)" style="font-size:18.0px;letter-spacing:-0.800px;stroke-width:0.1px;">0.3</text>
<text transform="translate(942.91 638.00) scale(0.85 1)" style="font-size:18.0px;letter-spacing:-0.800px;stroke-width:0.1px;">0.4</text>
<text transform="translate(1035.91 638.00) scale(0.85 1)" style="font-size:18.0px;letter-spacing:-0.800px;stroke-width:0.1px;">0.5</text>
<path class="c" stroke="#0000ff" d="M162 804.5H288"/>
<path class="c" stroke="#00ff00" d="M300 804.5H431"/>
<path class="c" stroke="#ff0000" d="M438 804.5H569"/>
<path class="c" stroke="#c0c000" d="M576 804.5H702"/>
<path class="c" stroke="#ff00ff" d="M714 804.5H840"/>
</svg></body></html>
